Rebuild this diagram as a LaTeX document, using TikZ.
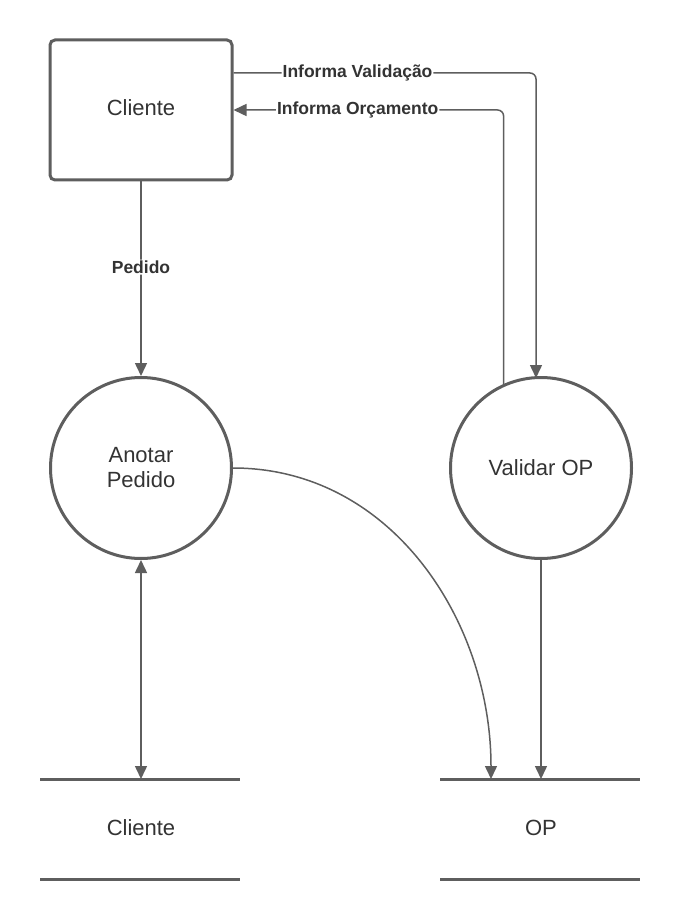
\documentclass[tikz,border=0pt]{standalone}
\usepackage{fontspec}
\setmainfont{Liberation Sans}
\usetikzlibrary{arrows.meta}
\definecolor{linegray}{HTML}{5E5E5E}
\definecolor{textgray}{HTML}{333333}
\tikzset{
  entity/.style={draw=linegray, line width=3pt, rounded corners=5pt, minimum width=182pt, minimum height=140pt, text=textgray, font=\fontsize{22}{25}\selectfont},
  process/.style={draw=linegray, line width=3pt, circle, minimum size=181pt, inner sep=0pt, text=textgray, align=center, font=\fontsize{22}{25}\selectfont},
  storename/.style={text=textgray, font=\fontsize{22}{25}\selectfont},
  flow/.style={draw=linegray, line width=1.5pt, -{Triangle[length=13pt,width=12pt]}},
  flowlabel/.style={fill=white, inner sep=1pt, text=textgray, font=\bfseries\fontsize{17.5}{20}\selectfont},
  storeline/.style={draw=linegray, line width=3pt}
}
\begin{document}
\begin{tikzpicture}[x=1pt,y=-1pt]
      \useasboundingbox (0,0) rectangle (680,920);
      \draw
        (141,110) node[entity, text depth=5pt] (cliente){Cliente}
        (141,468) node[process] (anotar){Anotar\\Pedido}
        (541,468) node[process] (validar){Validar OP}
        (141,828) node[storename] (dcliente){Cliente}
        (541,828) node[storename] (dop){OP};
      % data stores
      \coordinate (dclientetop) at (141,779);
      \coordinate (dopa) at (491,779);
      \coordinate (dopb) at (541,779);
      \draw[storeline] (40,779) -- (240,779) (40,879) -- (240,879);
      \draw[storeline] (440,779) -- (640,779) (440,879) -- (640,879);
      % flows
      \coordinate (valin) at (cliente.east |- 0,73);
      \coordinate (orcin) at (cliente.east |- 0,110);
      \coordinate (valfoot) at (validar.114);
      \begin{scope}[rounded corners=6pt]
        \draw[flow] (cliente.south) -- node[flowlabel, pos=0.44]{Pedido} (anotar.north);
        \draw[flow] (valin) -- node[flowlabel, pos=0.41]{Informa Validação} (536,73) -- (536,378);
        \draw[flow] (valfoot) -- (valfoot |- 0,110) -- node[flowlabel, pos=0.54]{Informa Orçamento} (orcin);
        \draw[flow] (anotar.east) to[out=0, in=90] (dopa);
        \draw[flow] (validar.south) -- (dopb);
        \draw[flow, {Triangle[length=13pt,width=12pt]}-{Triangle[length=13pt,width=12pt]}] (anotar.south) -- (dclientetop);
      \end{scope}
    \end{tikzpicture}
\end{document}
